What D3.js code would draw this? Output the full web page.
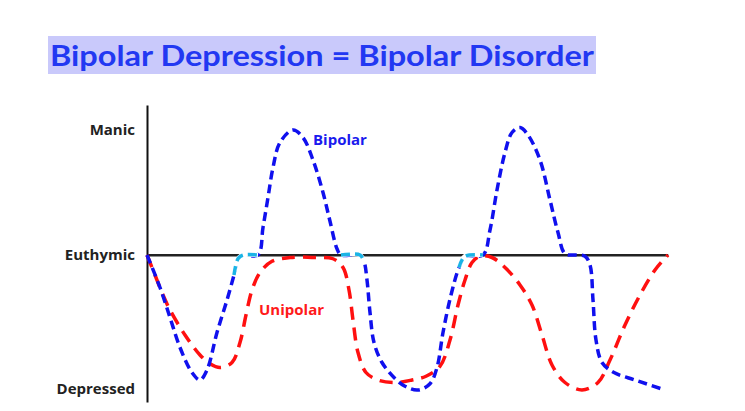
<!DOCTYPE html>
<html><head><meta charset="utf-8">
<script src="https://cdn.jsdelivr.net/npm/d3@7"></script>
<style>body{margin:0;background:#fff}svg{display:block}</style>
</head><body>
<svg id="c" width="745" height="411"></svg>
<script>
const title = "Bipolar Depression = Bipolar Disorder";
const moodLabels = ["Manic", "Euthymic", "Depressed"];
const moodValues = [1, 0, -1.072];
// [time, mood]
const bipolar = [[0,0],[13,-0.26],[23,-0.5],[33,-0.74],[45,-0.94],[53,-1.0],[60,-0.92],[70,-0.62],[80,-0.36],[87,-0.16],[91,-0.03],[96,0],[111,0],[116,0.22],[121,0.46],[126,0.7],[133,0.9],[146,1.0],[156,0.94],[166,0.76],[176,0.5],[183,0.27],[190,0.05],[194,0],[213,0],[217,-0.05],[220,-0.2],[223,-0.46],[227,-0.7],[235,-0.86],[247,-0.98],[258,-1.05],[271,-1.08],[283,-1.03],[290,-0.9],[296,-0.62],[304,-0.32],[312,-0.1],[318,-0.01],[336,0],[343,0.2],[350,0.52],[358,0.82],[365,0.98],[373,1.02],[381,0.96],[393,0.76],[403,0.44],[411,0.18],[418,0.01],[428,0],[438,-0.01],[443,-0.08],[446,-0.36],[449,-0.68],[455,-0.86],[467,-0.94],[488,-1.0],[518,-1.08]];
const euthymicRanges = [[87,111],[194,217],[312,336]];
const unipolar = [[0,0],[8,-0.16],[16,-0.32],[23,-0.44],[38,-0.64],[53,-0.8],[63,-0.87],[73,-0.9],[85,-0.86],[93,-0.7],[99,-0.48],[105,-0.28],[113,-0.14],[125,-0.05],[143,-0.02],[168,-0.02],[186,-0.03],[196,-0.1],[202,-0.28],[206,-0.52],[211,-0.78],[219,-0.94],[231,-1.0],[248,-1.02],[265,-1.0],[279,-0.97],[293,-0.89],[303,-0.68],[311,-0.4],[318,-0.2],[325,-0.06],[333,-0.01],[345,-0.02],[358,-0.1],[373,-0.24],[385,-0.4],[395,-0.64],[405,-0.88],[418,-1.02],[435,-1.08],[451,-1.02],[463,-0.84],[478,-0.56],[493,-0.32],[508,-0.12],[521,0]];
const seriesNames = ["Bipolar", "Unipolar"];

const svg = d3.select("#c");
const labelFont = "'Open Sans', sans-serif";
// title
const tg = svg.append("g");
tg.append("rect").attr("x",48).attr("y",36).attr("width",548).attr("height",38).attr("fill","#c9c9fb");
tg.append("text").attr("x",50).attr("y",66).attr("font-family","Lato, 'Open Sans', sans-serif")
  .attr("font-weight","bold").attr("font-size",28).attr("fill","#2238f2")
  .attr("textLength",544).attr("lengthAdjust","spacingAndGlyphs").text(title);

const x = d3.scaleLinear().domain([0,521]).range([147,668]);
const y = d3.scaleLinear().domain([-1.176,1.2]).range([402,105]);

// axes
const ya = svg.append("g").attr("transform",`translate(${x(0)},0)`)
  .call(d3.axisLeft(y).tickValues(moodValues).tickSize(0).tickPadding(12)
    .tickFormat((d,i)=>moodLabels[i]));
ya.select(".domain").attr("stroke","#111").attr("stroke-width",2);
ya.selectAll("text").attr("font-family",labelFont).attr("font-weight","bold")
  .attr("font-size",15).attr("fill","#222");
const xa = svg.append("g").attr("transform",`translate(0,${y(0)})`)
  .call(d3.axisBottom(x).tickValues([]).tickSizeOuter(0));
xa.select(".domain").attr("stroke","#222").attr("stroke-width",2);

const line = d3.line().x(d=>x(d[0])).y(d=>y(d[1])).curve(d3.curveCatmullRom.alpha(0.5));

// unipolar
svg.append("path").datum(unipolar).attr("d",line).attr("fill","none")
  .attr("stroke","#ff1010").attr("stroke-width",3.5).attr("stroke-dasharray","13,8");

// bipolar: euthymic (cyan) runs
const inEu = t => euthymicRanges.some(r => t[0]>=r[0] && t[0]<=r[1]);
const runs = [];
let cur = null;
bipolar.forEach((p,i)=>{
  if(i===0) return;
  const prev = bipolar[i-1];
  const segEu = inEu(prev) && inEu(p);
  if(!cur || cur.eu!==segEu){ cur={eu:segEu,pts:[prev,p]}; runs.push(cur); }
  else cur.pts.push(p);
});
svg.append("path").datum(bipolar).attr("d",line).attr("fill","none").attr("stroke","#1010ee")
  .attr("stroke-width",3.5).attr("stroke-dasharray","9,5");
runs.filter(r=>r.eu).forEach(r=>{
  svg.append("path").datum(r.pts).attr("d",line).attr("fill","none").attr("stroke","#fff")
    .attr("stroke-width",4.5);
  svg.append("path").datum(r.pts).attr("d",line).attr("fill","none").attr("stroke","#1ab4e6")
    .attr("stroke-width",3.5).attr("stroke-dasharray","9,5");
});
// axis line stays under the curves
svg.append("line").attr("x1",x(0)).attr("x2",x(521)).attr("y1",y(0)).attr("y2",y(0))
  .attr("stroke","#222").attr("stroke-width",2).lower();
// series labels
svg.append("text").attr("x",x(166)).attr("y",y(0.88)).attr("font-family",labelFont)
  .attr("font-weight","bold").attr("font-size",15).attr("fill","#1a1aee").text(seriesNames[0]);
svg.append("text").attr("x",x(112)).attr("y",y(-0.48)).attr("font-family",labelFont)
  .attr("font-weight","bold").attr("font-size",15).attr("fill","#ff1a1a").text(seriesNames[1]);
</script>
</body></html>
